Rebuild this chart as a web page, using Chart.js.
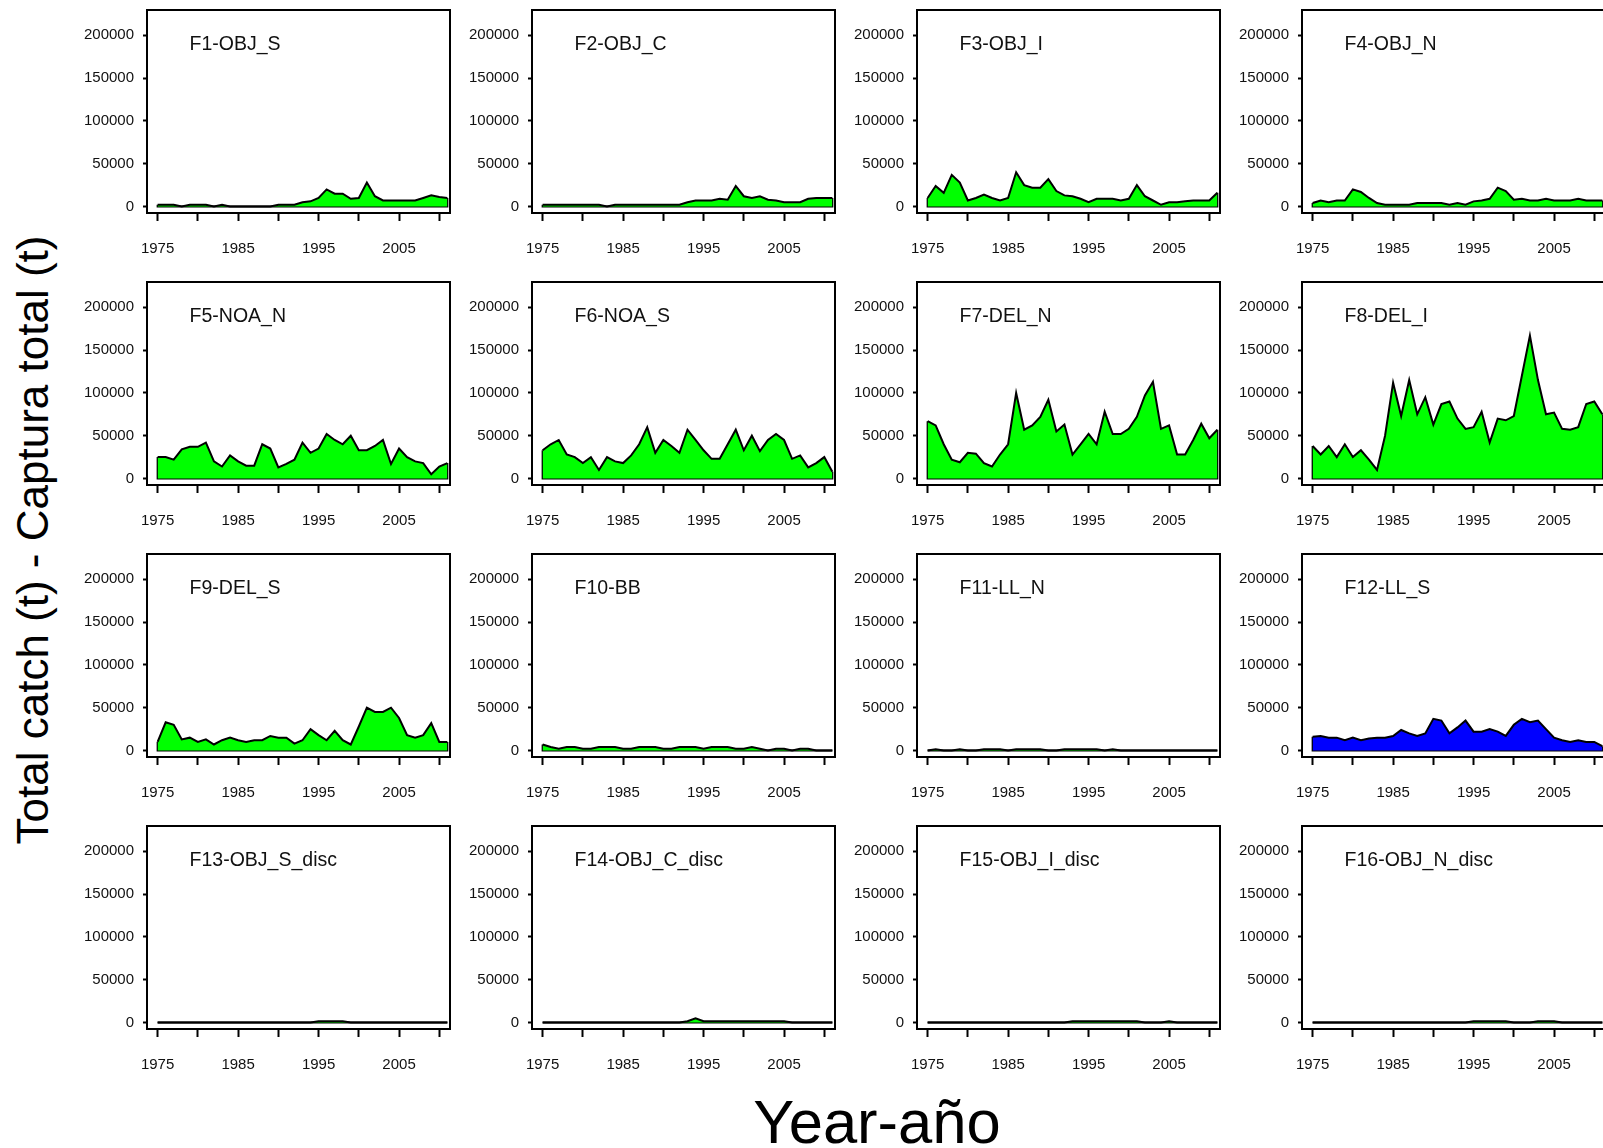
<!DOCTYPE html>
<html>
<head>
<meta charset="utf-8">
<script src="https://cdn.jsdelivr.net/npm/chart.js"></script>
<style>
    body { margin: 0; width: 1603px; height: 1148px; overflow: hidden; background: #fff; position: relative; font-family: Arial, "Liberation Sans", sans-serif; }
    canvas { position: absolute; }
    .panel-title { position: absolute; font-size: 19.5px; line-height: 1; color: #111; white-space: nowrap; }
    #ytitle { position: absolute; width: 800px; height: 44px; font-size: 44px; line-height: 44px; text-align: center; white-space: nowrap; transform: rotate(-90deg); }
    #xtitle { position: absolute; width: 600px; font-size: 61.5px; line-height: 1; text-align: center; white-space: nowrap; }
</style>
</head>
<body>
<div id="ytitle">Total catch (t) - Captura total (t)</div>
<div id="xtitle">Year-año</div>

<script>
// catch per fleet, one value per year
const years = [1975, 1976, 1977, 1978, 1979, 1980, 1981, 1982, 1983, 1984,
    1985, 1986, 1987, 1988, 1989, 1990, 1991, 1992, 1993, 1994,
    1995, 1996, 1997, 1998, 1999, 2000, 2001, 2002, 2003, 2004,
    2005, 2006, 2007, 2008, 2009, 2010, 2011];

const yTicks = [0, 50000, 100000, 150000, 200000];
const xTicks = [1975, 1980, 1985, 1990, 1995, 2000, 2005, 2010];
const xTickLabels = [1975, 1985, 1995, 2005];

const fleetNames = ['F1-OBJ_S', 'F2-OBJ_C', 'F3-OBJ_I', 'F4-OBJ_N',
    'F5-NOA_N', 'F6-NOA_S', 'F7-DEL_N', 'F8-DEL_I',
    'F9-DEL_S', 'F10-BB', 'F11-LL_N', 'F12-LL_S',
    'F13-OBJ_S_disc', 'F14-OBJ_C_disc', 'F15-OBJ_I_disc', 'F16-OBJ_N_disc'];

const f1 = [2000, 2000, 2000, 0, 2000, 2000, 2000, 0, 2000, 0,
    0, 0, 0, 0, 0, 2000, 2000, 2000, 5000, 6000,
    10000, 20000, 15000, 15000, 9000, 10000, 28000, 12000, 7000, 7000,
    7000, 7000, 7000, 10000, 13000, 11000, 10000];
const f2 = [2000, 2000, 2000, 2000, 2000, 2000, 2000, 2000, 0, 2000,
    2000, 2000, 2000, 2000, 2000, 2000, 2000, 2000, 5000, 7000,
    7000, 7000, 9000, 8000, 24000, 12000, 10000, 12000, 8000, 7000,
    5000, 5000, 5000, 9000, 10000, 10000, 10000];
const f3 = [10000, 24000, 16000, 37000, 28000, 7000, 10000, 14000, 10000, 7000,
    10000, 40000, 25000, 22000, 22000, 32000, 18000, 13000, 12000, 9000,
    5000, 9000, 9000, 9000, 7000, 9000, 25000, 12000, 7000, 2000,
    5000, 5000, 6000, 7000, 7000, 7000, 16000];
const f4 = [4000, 7000, 5000, 7000, 7000, 20000, 17000, 10000, 4000, 2000,
    2000, 2000, 2000, 4000, 4000, 4000, 4000, 2000, 4000, 2000,
    6000, 7000, 9000, 22000, 18000, 8000, 9000, 7000, 7000, 9000,
    7000, 7000, 7000, 9000, 7000, 7000, 7000];
const f5 = [25000, 25000, 22000, 34000, 37000, 37000, 42000, 20000, 14000, 27000,
    20000, 15000, 15000, 40000, 35000, 13000, 17000, 22000, 42000, 30000,
    35000, 52000, 45000, 40000, 50000, 33000, 33000, 38000, 45000, 17000,
    35000, 25000, 20000, 18000, 5000, 14000, 18000];
const f6 = [33000, 40000, 45000, 28000, 25000, 18000, 25000, 10000, 25000, 20000,
    18000, 27000, 40000, 60000, 30000, 45000, 38000, 30000, 57000, 45000,
    33000, 23000, 23000, 40000, 57000, 33000, 50000, 32000, 45000, 52000,
    45000, 23000, 27000, 13000, 18000, 25000, 8000];
const f7 = [67000, 62000, 40000, 22000, 19000, 30000, 29000, 18000, 14000, 28000,
    40000, 100000, 57000, 62000, 72000, 92000, 55000, 63000, 28000, 40000,
    52000, 40000, 78000, 52000, 52000, 58000, 72000, 97000, 113000, 58000,
    62000, 28000, 28000, 45000, 64000, 47000, 57000];
const f8 = [38000, 28000, 38000, 25000, 40000, 25000, 33000, 22000, 10000, 50000,
    112000, 73000, 115000, 75000, 95000, 63000, 87000, 90000, 70000, 58000,
    60000, 78000, 42000, 70000, 68000, 73000, 120000, 167000, 115000, 75000,
    77000, 58000, 57000, 60000, 87000, 90000, 75000];
const f9 = [10000, 33000, 30000, 13000, 15000, 10000, 13000, 7000, 12000, 15000,
    12000, 10000, 12000, 12000, 17000, 15000, 15000, 8000, 12000, 25000,
    18000, 12000, 23000, 12000, 7000, 28000, 50000, 45000, 45000, 50000,
    38000, 18000, 15000, 18000, 32000, 10000, 10000];
const f10 = [7000, 4000, 2000, 4000, 4000, 2000, 2000, 4000, 4000, 4000,
    2000, 2000, 4000, 4000, 4000, 2000, 2000, 4000, 4000, 4000,
    2000, 4000, 4000, 4000, 2000, 2000, 4000, 2000, 0, 2000,
    2000, 0, 2000, 2000, 0, 0, 0];
const f11 = [0, 1500, 0, 0, 1500, 0, 0, 1500, 1500, 1500,
    0, 1500, 1500, 1500, 1500, 0, 0, 1500, 1500, 1500,
    1500, 1500, 0, 1500, 0, 0, 0, 0, 0, 0,
    0, 0, 0, 0, 0, 0, 0];
const f12 = [16000, 17000, 15000, 15000, 12000, 15000, 12000, 14000, 15000, 15000,
    17000, 24000, 20000, 17000, 20000, 37000, 35000, 20000, 27000, 35000,
    22000, 22000, 25000, 22000, 17000, 30000, 37000, 33000, 35000, 25000,
    15000, 12000, 10000, 12000, 10000, 10000, 5000];
const f13 = [0, 0, 0, 0, 0, 0, 0, 0, 0, 0,
    0, 0, 0, 0, 0, 0, 0, 0, 0, 0,
    1500, 1500, 1500, 1500, 0, 0, 0, 0, 0, 0,
    0, 0, 0, 0, 0, 0, 0];
const f14 = [0, 0, 0, 0, 0, 0, 0, 0, 0, 0,
    0, 0, 0, 0, 0, 0, 0, 0, 1500, 5000,
    1500, 1500, 1500, 1500, 1500, 1500, 1500, 1500, 1500, 1500,
    1500, 0, 0, 0, 0, 0, 0];
const f15 = [0, 0, 0, 0, 0, 0, 0, 0, 0, 0,
    0, 0, 0, 0, 0, 0, 0, 0, 1500, 1500,
    1500, 1500, 1500, 1500, 1500, 1500, 1500, 0, 0, 0,
    1500, 0, 0, 0, 0, 0, 0];
const f16 = [0, 0, 0, 0, 0, 0, 0, 0, 0, 0,
    0, 0, 0, 0, 0, 0, 0, 0, 0, 0,
    1500, 1500, 1500, 1500, 1500, 0, 0, 0, 1500, 1500,
    1500, 0, 0, 0, 0, 0, 0];

const fleetSeries = [f1, f2, f3, f4, f5, f6, f7, f8, f9, f10, f11, f12, f13, f14, f15, f16];
const fleetColors = fleetNames.map((name) => name === 'F12-LL_S' ? '#0000ff' : '#00ff00');

// panel geometry (plot box of each small chart)
const boxW = 303, boxH = 203;
const axisW = 80, axisH = 50, padTop = 5, padRight = 3;

const boxPlugin = {
    id: 'box',
    afterDraw(chart) {
        const { ctx, chartArea: a } = chart;
        ctx.save();
        ctx.strokeStyle = '#000';
        ctx.lineWidth = 2;
        ctx.strokeRect(a.left, a.top, a.right - a.left, a.bottom - a.top);
        ctx.restore();
    }
};

const tickFont = { family: 'Arial, "Liberation Sans", sans-serif', size: 15 };

// no extra padding for overhanging tick labels, the box size is fixed
function noLabelPadding(s) {
    s.paddingTop = 0;
    s.paddingBottom = 0;
    s.paddingLeft = 0;
    s.paddingRight = 0;
}

function drawPanel(i) {
    const col = i % 4, row = Math.floor(i / 4);
    const boxLeft = Math.round(146.7 + 385 * col);
    const boxTop = 10 + 272 * row;
    const values = fleetSeries[i];
    const last = years.length - 1;

    const canvas = document.createElement('canvas');
    canvas.width = axisW + boxW + padRight;
    canvas.height = padTop + boxH + axisH;
    canvas.style.left = (boxLeft - axisW) + 'px';
    canvas.style.top = (boxTop - padTop) + 'px';
    document.body.appendChild(canvas);

    const title = document.createElement('div');
    title.className = 'panel-title';
    title.textContent = fleetNames[i];
    title.style.left = (boxLeft + 42.6) + 'px';
    title.style.top = (boxTop + 23.5) + 'px';
    document.body.appendChild(title);

    new Chart(canvas, {
        type: 'line',
        data: {
            datasets: [
                {
                    data: years.map((yr, k) => ({ x: yr, y: values[k] })),
                    borderColor: '#000',
                    borderWidth: 2,
                    backgroundColor: fleetColors[i],
                    fill: 'origin',
                    pointRadius: 0,
                    tension: 0
                },
                {
                    // closing edges of the polygon (start, baseline, end)
                    data: [
                        { x: years[0], y: values[0] },
                        { x: years[0], y: 0 },
                        { x: years[last], y: 0 },
                        { x: years[last], y: values[last] }
                    ],
                    borderColor: '#000',
                    borderWidth: 2,
                    fill: false,
                    pointRadius: 0
                }
            ]
        },
        options: {
            responsive: false,
            animation: false,
            devicePixelRatio: 1,
            layout: { padding: { left: 0, top: padTop, right: padRight, bottom: 0 } },
            plugins: { legend: { display: false }, tooltip: { enabled: false } },
            scales: {
                x: {
                    type: 'linear',
                    min: 1973.68,
                    max: 2011.33,
                    afterBuildTicks: (s) => { s.ticks = xTicks.map((v) => ({ value: v })); },
                    afterFit: (s) => { s.height = axisH; noLabelPadding(s); },
                    border: { display: false },
                    grid: { drawOnChartArea: false, drawTicks: true, tickLength: 8, tickWidth: 2, tickColor: '#000' },
                    ticks: {
                        autoSkip: false,
                        maxRotation: 0,
                        padding: 19,
                        color: '#111',
                        font: tickFont,
                        callback: (v) => xTickLabels.includes(v) ? String(v) : ''
                    }
                },
                y: {
                    type: 'linear',
                    min: -7600,
                    max: 229600,
                    afterBuildTicks: (s) => { s.ticks = yTicks.map((v) => ({ value: v })); },
                    afterFit: (s) => { s.width = axisW; noLabelPadding(s); },
                    border: { display: false },
                    grid: {
                        drawOnChartArea: false, drawTicks: true, tickLength: 11, tickWidth: 2, tickColor: '#000',
                        tickBorderDash: [4, 7], tickBorderDashOffset: 4
                    },
                    ticks: {
                        autoSkip: false,
                        padding: 2,
                        color: '#111',
                        font: tickFont,
                        callback: (v) => String(v)
                    }
                }
            }
        },
        plugins: [boxPlugin]
    });
}

fleetNames.forEach((name, i) => drawPanel(i));

// big axis titles
const yt = document.getElementById('ytitle');
yt.style.left = (33.3 - 400) + 'px';
yt.style.top = (540 - 22) + 'px';
const xt = document.getElementById('xtitle');
xt.style.left = (877 - 300) + 'px';
xt.style.top = '1091px';
</script>
</body>
</html>
